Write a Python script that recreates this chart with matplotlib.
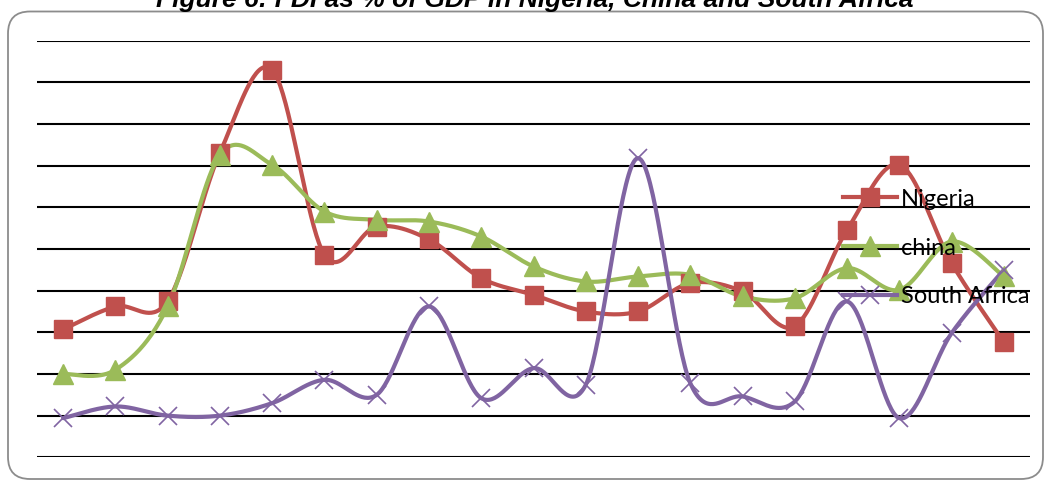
import numpy as np
import matplotlib
matplotlib.use("Agg")
import matplotlib.pyplot as plt
from matplotlib.lines import Line2D
from matplotlib.patches import FancyBboxPatch

# FDI inflows as % of GDP, 19 consecutive years
years = list(range(1990, 2009))
nigeria = [2.07, 2.62, 2.75, 6.31, 8.30, 3.86, 4.54, 4.23, 3.30, 2.90,
           2.50, 2.50, 3.18, 2.98, 2.15, 4.46, 6.02, 3.66, 1.76]
china = [1.00, 1.10, 2.62, 6.26, 6.02, 4.90, 4.70, 4.66, 4.30, 3.58,
         3.22, 3.34, 3.38, 2.86, 2.82, 3.54, 3.02, 4.18, 3.34]
south_africa = [-0.06, 0.22, 0.00, 0.00, 0.30, 0.86, 0.50, 2.62, 0.42, 1.14,
                0.74, 6.18, 0.78, 0.46, 0.34, 2.74, -0.06, 1.98, 3.50]
series_names = ["Nigeria", "china", "South Africa"]
title = "Figure 6: FDI as % of GDP in Nigeria, China and South Africa"

RED, GREEN, PURPLE = "#C0504D", "#9BBB59", "#8064A2"


def smooth(xs, ys, n=40):
    """Catmull-Rom style Bezier smoothing through every point."""
    p = np.column_stack([xs, ys]).astype(float)
    pad = np.vstack([p[0], p, p[-1]])
    out = []
    t = np.linspace(0, 1, n)[:, None]
    for i in range(len(p) - 1):
        p0, p1, p2, p3 = pad[i], pad[i + 1], pad[i + 2], pad[i + 3]
        b1 = p1 + (p2 - p0) / 6.0
        b2 = p2 - (p3 - p1) / 6.0
        seg = ((1 - t) ** 3) * p1 + 3 * ((1 - t) ** 2) * t * b1 \
            + 3 * (1 - t) * t ** 2 * b2 + t ** 3 * p2
        out.append(seg if i == 0 else seg[1:])
    c = np.vstack(out)
    return c[:, 0], c[:, 1]


W, H = 1045, 480
fig = plt.figure(figsize=(W / 100, H / 100), dpi=100)

# rounded chart frame
frame = FancyBboxPatch((0.08, 0.01), 10.35, 4.675,
                       boxstyle="round,pad=0,rounding_size=0.22",
                       transform=fig.dpi_scale_trans, fill=False,
                       edgecolor="#8C8C8C", linewidth=1.3, zorder=0)
fig.patches.append(frame)

fig.text(535 / W, 1 - 7 / H, title, ha="center", va="baseline",
         fontsize=19, fontweight="bold", fontstyle="italic",
         family="Liberation Sans", color="black")

ax = fig.add_axes([37 / W, 1 - 457.3 / H, (1030 - 37) / W, (457.3 - 40.7) / H])
ax.set_xlim(-0.5, len(years) - 0.5)
ax.set_ylim(-1, 9)
for s in ax.spines.values():
    s.set_visible(False)
ax.set_xticks([])
ax.set_yticks([])
ax.patch.set_alpha(0)
for g in range(-1, 10):
    ax.axhline(g, color="black", linewidth=1.5, zorder=1)

x = np.arange(len(years))
styles = [
    (nigeria, RED, dict(marker="s", markersize=13.5)),
    (china, GREEN, dict(marker="^", markersize=14)),
    (south_africa, PURPLE, dict(marker="x", markersize=13, markeredgewidth=1.2)),
]
handles = []
for (vals, col, mk), name in zip(styles, series_names):
    sx, sy = smooth(x, vals)
    ax.plot(sx, sy, color=col, linewidth=3.0, solid_capstyle="round", zorder=3)
    ax.plot(x, vals, linestyle="none", color=col, markerfacecolor=col,
            markeredgecolor=col, zorder=4, clip_on=False, **mk)
    handles.append(Line2D([], [], color=col, linewidth=3.0, markerfacecolor=col,
                          markeredgecolor=col, **mk))

fs = 17
fpx = fs * 100 / 72
leg = ax.legend(handles, series_names, loc="center left",
                bbox_to_anchor=(843 / W, 1 - 248 / H),
                bbox_transform=fig.transFigure, frameon=False,
                prop={"family": "Lato", "size": fs},
                handlelength=54 / fpx, handletextpad=4 / fpx,
                borderpad=0, borderaxespad=0, labelspacing=1.18)
leg.set_zorder(5)

fig.savefig("out.png", dpi=100)
